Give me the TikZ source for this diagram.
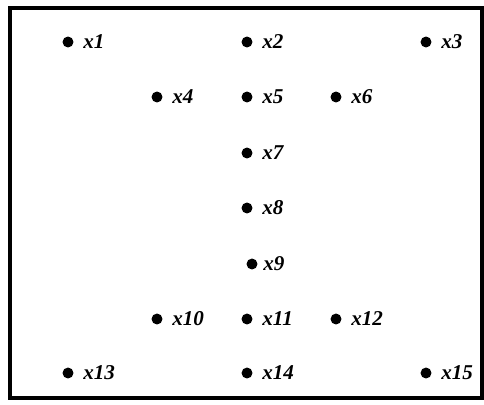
\documentclass[tikz,border=0pt]{standalone}
\usepackage{fontspec}
\setmainfont{Liberation Serif}
\usetikzlibrary{positioning}

\begin{document}
\begin{tikzpicture}[
  dot/.style={circle, fill=black, inner sep=0pt, minimum size=7.8pt,
    label={[lbl]right:#1}},
  lbl/.style={inner sep=1pt, label distance=5.6pt, font=\fontsize{15}{17}\selectfont\bfseries\itshape},
  frame/.style={draw=black, line width=2.8pt}
]
\useasboundingbox (0,0) rectangle (12.1,-10.1);
\draw[frame] (0.24,-0.19) rectangle (12.04,-9.96);

% top row
\node[dot=x1] (x1) at (1.7,-1.05) {};
\node[dot=x2] (x2) at (6.175,-1.05) {};
\node[dot=x3] (x3) at (10.65,-1.05) {};

\node[dot=x4] (x4) at (3.925,-2.425) {};
\node[dot=x5] (x5) at (6.175,-2.425) {};
\node[dot=x6] (x6) at (8.4,-2.425) {};

% middle column
\node[dot=x7] (x7) at (6.175,-3.825) {};
\node[dot=x8] (x8) at (6.175,-5.2) {};
\node[circle, fill=black, inner sep=0pt, minimum size=7.8pt,
  label={[lbl, label distance=2.8pt]right:x9}] (x9) at (6.3,-6.6) {};

% bottom rows
\node[dot=x10] (x10) at (3.925,-7.975) {};
\node[dot=x11] (x11) at (6.175,-7.975) {};
\node[dot=x12] (x12) at (8.4,-7.975) {};

\node[dot=x13] (x13) at (1.7,-9.325) {};
\node[dot=x14] (x14) at (6.175,-9.325) {};
\node[dot=x15] (x15) at (10.65,-9.325) {};

\end{tikzpicture}
\end{document}
